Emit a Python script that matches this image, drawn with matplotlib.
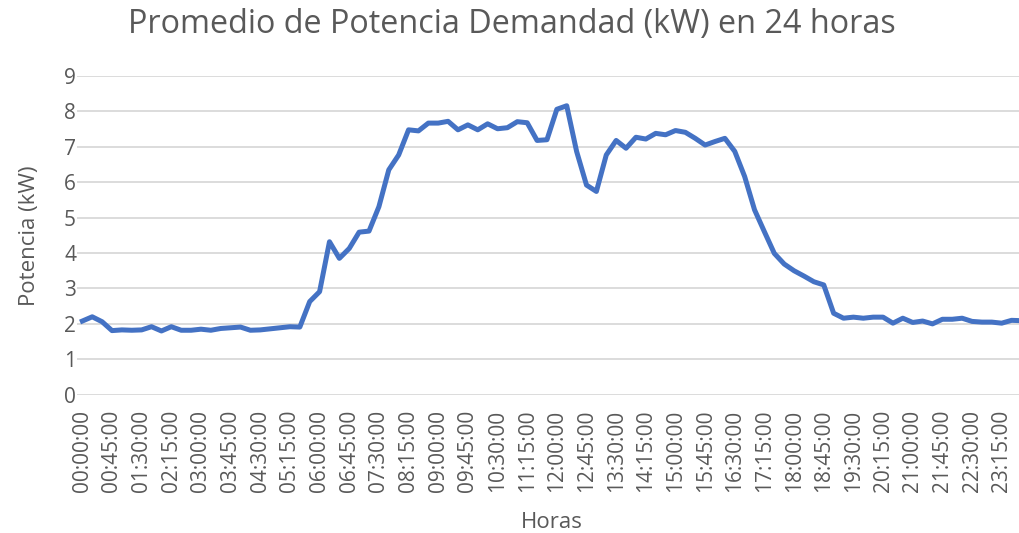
import matplotlib
matplotlib.use("Agg", force=True)

import matplotlib.pyplot as plt

# 15-minute slots over the day
horas = [f"{m // 60:02d}:{m % 60:02d}:00" for m in range(0, 24 * 60, 15)]

potencia = [
    2.08, 2.20, 2.06, 1.81, 1.83, 1.82, 1.83, 1.92, 1.80, 1.92,
    1.82, 1.82, 1.85, 1.82, 1.87, 1.89, 1.91, 1.82, 1.83, 1.86,
    1.89, 1.92, 1.91, 2.63, 2.91, 4.32, 3.85, 4.13, 4.59, 4.62,
    5.31, 6.35, 6.77, 7.48, 7.45, 7.67, 7.67, 7.72, 7.48, 7.62,
    7.48, 7.65, 7.51, 7.54, 7.71, 7.68, 7.18, 7.20, 8.06, 8.16,
    6.87, 5.92, 5.74, 6.77, 7.18, 6.96, 7.27, 7.22, 7.38, 7.34,
    7.46, 7.41, 7.24, 7.05, 7.15, 7.24, 6.87, 6.16, 5.22, 4.60,
    3.99, 3.69, 3.50, 3.35, 3.19, 3.10, 2.30, 2.16, 2.19, 2.16,
    2.19, 2.19, 2.02, 2.16, 2.04, 2.08, 2.00, 2.13, 2.13, 2.16,
    2.07, 2.05, 2.05, 2.02, 2.10, 2.09,
]

texto = "#595959"
plt.rcParams["font.family"] = ["Open Sans", "DejaVu Sans"]

fig = plt.figure(figsize=(10.19, 5.33), dpi=100)
ax = fig.add_axes([77.4 / 1019, 138.3 / 533, (1026.4 - 77.4) / 1019, 318.7 / 533])

x = list(range(len(potencia)))
ax.plot(x, potencia, color="#4472C4", linewidth=3.6, solid_joinstyle="round")

ax.set_xlim(-0.5, len(potencia) - 0.5)
ax.set_ylim(0, 9)
ax.set_yticks(range(0, 10))
ax.set_xticks(x[::3])
ax.set_xticklabels(horas[::3], rotation=90)

ax.grid(axis="y", color="#d9d9d9", linewidth=1.3)
ax.set_axisbelow(True)
for s in ax.spines.values():
    s.set_visible(False)

ax.tick_params(axis="both", length=0, labelcolor=texto, labelsize=15)
ax.tick_params(axis="x", pad=11)
ax.tick_params(axis="y", pad=1)

ax.set_xlabel("Horas", color=texto, fontsize=16, labelpad=14)
ax.set_ylabel("Potencia (kW)", color=texto, fontsize=16, labelpad=17)
fig.suptitle("Promedio de Potencia Demandad (kW) en 24 horas", color=texto,
             fontsize=23.3, x=512 / 1019, y=1 - 24 / 533, va="center")

fig.savefig("out.png", dpi=100)
